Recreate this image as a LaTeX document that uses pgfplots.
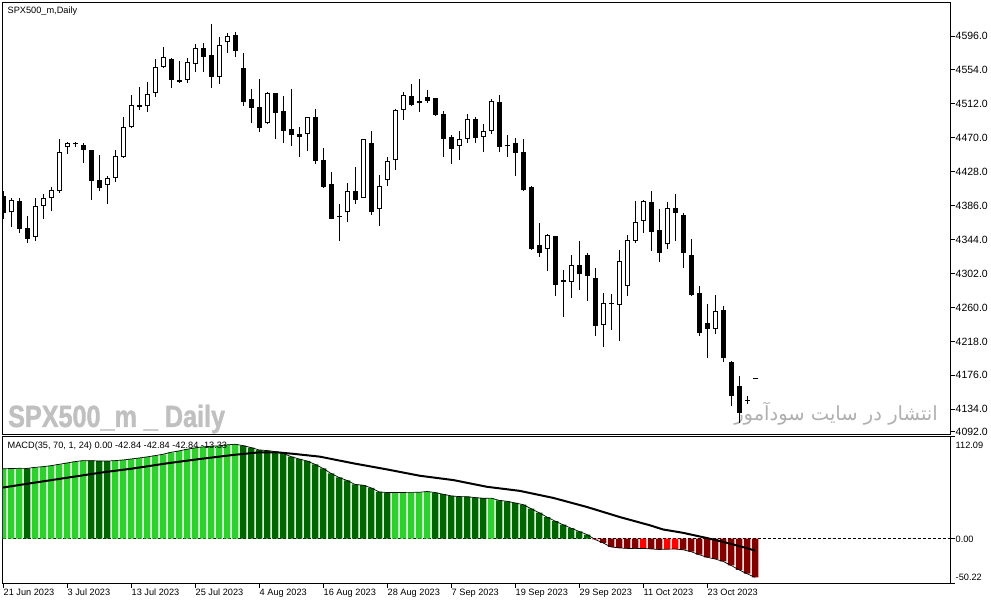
\documentclass[border=0pt]{standalone}
\usepackage{fontspec}
\setmainfont{Liberation Sans}
\newfontfamily\wmfont[FakeStretch=0.82,FakeBold=1.2]{Liberation Sans}
\newfontfamily\arabicfont[Script=Arabic]{DejaVu Sans}
\TeXXeTstate=1
\usepackage{pgfplots}
\pgfplotsset{compat=1.18}
\usepackage{pgfplotstable}

\definecolor{lgreen}{RGB}{50,205,50}
\definecolor{dgreen}{RGB}{0,100,0}
\definecolor{dred}{RGB}{128,0,0}
\definecolor{bred}{RGB}{255,0,0}
\definecolor{wmgray}{RGB}{192,192,192}
\definecolor{fagray}{RGB}{176,176,176}

% daily candles: index, open, high, low, close
\pgfplotstableread{
i O H L C
0 4398 4404 4370 4377
1 4378 4395 4360 4393
2 4392 4395 4352 4357
3 4359 4373 4340 4345
4 4347 4396 4342 4386
5 4386 4400 4370 4395
6 4395 4409 4379 4406
7 4404 4468 4402 4452
8 4459 4465 4450 4464
9 4463 4465 4459 4462
10 4461 4464 4439 4455
11 4455 4455 4393 4416
12 4418 4449 4404 4408
13 4411 4423 4388 4420
14 4420 4455 4415 4447
15 4446 4496 4445 4483
16 4483 4523 4482 4511
17 4511 4533 4504 4508
18 4509 4539 4502 4524
19 4525 4568 4520 4558
20 4558 4582 4556 4570
21 4568 4569 4532 4542
22 4542 4565 4538 4539
23 4542 4569 4538 4564
24 4561 4586 4551 4581
25 4581 4587 4551 4570
26 4573 4611 4532 4545
27 4545 4595 4536 4585
28 4588 4600 4575 4596
29 4597 4601 4570 4578
30 4556 4575 4509 4514
31 4518 4531 4488 4507
32 4508 4543 4477 4482
33 4488 4527 4487 4525
34 4525 4526 4468 4501
35 4503 4522 4464 4478
36 4481 4530 4460 4473
37 4475 4483 4446 4471
38 4475 4496 4454 4496
39 4496 4506 4438 4441
40 4443 4457 4408 4409
41 4413 4428 4369 4370
42 4373 4388 4342 4372
43 4378 4414 4366 4404
44 4404 4434 4388 4393
45 4396 4469 4395 4469
46 4464 4479 4375 4378
47 4382 4424 4361 4410
48 4418 4446 4410 4441
49 4442 4506 4430 4505
50 4505 4527 4492 4523
51 4522 4537 4509 4511
52 4513 4543 4502 4515
53 4520 4529 4513 4515
54 4519 4519 4497 4498
55 4500 4503 4446 4469
56 4471 4473 4437 4456
57 4460 4479 4443 4469
58 4469 4500 4464 4493
59 4493 4496 4464 4470
60 4471 4487 4452 4478
61 4478 4518 4475 4515
62 4514 4523 4452 4459
63 4461 4474 4446 4460
64 4464 4470 4423 4451
65 4452 4469 4404 4405
66 4409 4410 4331 4332
67 4337 4365 4323 4328
68 4333 4351 4305 4350
69 4348 4349 4274 4288
70 4292 4306 4248 4294
71 4292 4325 4272 4313
72 4313 4342 4282 4301
73 4325 4328 4268 4299
74 4297 4309 4225 4237
75 4238 4278 4211 4265
76 4265 4277 4232 4264
77 4263 4331 4218 4318
78 4287 4350 4274 4343
79 4342 4392 4340 4366
80 4367 4393 4352 4392
81 4391 4404 4330 4354
82 4356 4382 4316 4327
83 4338 4391 4332 4383
84 4383 4400 4342 4377
85 4374 4377 4309 4327
86 4325 4345 4274 4275
87 4278 4286 4225 4228
88 4241 4264 4197 4234
89 4234 4275 4227 4256
90 4257 4262 4192 4197
91 4193 4194 4138 4150
92 4163 4175 4117 4129
93 4144 4150 4141 4144
94 4171 4171 4171 4171
}\ohlc

% MACD histogram: value, split by colour
\pgfplotstableread{
i v lg dg dr br
0 77.0 77.0 nan nan nan
1 77.3 77.3 nan nan nan
2 77.5 77.5 nan nan nan
3 77.4 nan 77.4 nan nan
4 78.6 78.6 nan nan nan
5 79.3 79.3 nan nan nan
6 80.4 80.4 nan nan nan
7 81.9 81.9 nan nan nan
8 83.4 83.4 nan nan nan
9 84.9 84.9 nan nan nan
10 86.0 86.0 nan nan nan
11 85.9 nan 85.9 nan nan
12 85.6 nan 85.6 nan nan
13 85.5 nan 85.5 nan nan
14 86.0 86.0 nan nan nan
15 86.7 86.7 nan nan nan
16 87.8 87.8 nan nan nan
17 88.9 88.9 nan nan nan
18 90.1 90.1 nan nan nan
19 91.5 91.5 nan nan nan
20 93.0 93.0 nan nan nan
21 95.2 95.2 nan nan nan
22 96.7 96.7 nan nan nan
23 98.6 98.6 nan nan nan
24 100.1 100.1 nan nan nan
25 101.2 101.2 nan nan nan
26 101.9 101.9 nan nan nan
27 102.3 102.3 nan nan nan
28 103.4 103.4 nan nan nan
29 104.1 104.1 nan nan nan
30 102.6 nan 102.6 nan nan
31 100.4 nan 100.4 nan nan
32 97.8 nan 97.8 nan nan
33 97.1 nan 97.1 nan nan
34 96.0 nan 96.0 nan nan
35 94.1 nan 94.1 nan nan
36 90.4 nan 90.4 nan nan
37 87.8 nan 87.8 nan nan
38 85.6 nan 85.6 nan nan
39 81.9 nan 81.9 nan nan
40 77.4 nan 77.4 nan nan
41 71.9 nan 71.9 nan nan
42 67.4 nan 67.4 nan nan
43 64.1 nan 64.1 nan nan
44 59.7 nan 59.7 nan nan
45 58.9 nan 58.9 nan nan
46 56.0 nan 56.0 nan nan
47 51.5 nan 51.5 nan nan
48 50.8 nan 50.8 nan nan
49 50.85 50.85 nan nan nan
50 50.9 50.9 nan nan nan
51 50.95 50.95 nan nan nan
52 51.0 51.0 nan nan nan
53 51.9 51.9 nan nan nan
54 50.8 nan 50.8 nan nan
55 48.9 nan 48.9 nan nan
56 47.1 nan 47.1 nan nan
57 46.3 nan 46.3 nan nan
58 46.2 nan 46.2 nan nan
59 45.2 nan 45.2 nan nan
60 44.5 nan 44.5 nan nan
61 44.6 44.6 nan nan nan
62 42.2 nan 42.2 nan nan
63 41.1 nan 41.1 nan nan
64 39.3 nan 39.3 nan nan
65 37.4 nan 37.4 nan nan
66 33.0 nan 33.0 nan nan
67 28.5 nan 28.5 nan nan
68 23.7 nan 23.7 nan nan
69 19.3 nan 19.3 nan nan
70 15.2 nan 15.2 nan nan
71 11.5 nan 11.5 nan nan
72 7.8 nan 7.8 nan nan
73 4.4 nan 4.4 nan nan
74 -1.0 nan nan nan -1.0
75 -4.8 nan nan -4.8 nan
76 -9.3 nan nan -9.3 nan
77 -10.4 nan nan -10.4 nan
78 -10.9 nan nan -10.9 nan
79 -11.2 nan nan -11.2 nan
80 -10.9 nan nan nan -10.9
81 -11.5 nan nan -11.5 nan
82 -12.1 nan nan -12.1 nan
83 -11.8 nan nan nan -11.8
84 -11.6 nan nan nan -11.6
85 -12.4 nan nan -12.4 nan
86 -14.5 nan nan -14.5 nan
87 -17.8 nan nan -17.8 nan
88 -20.7 nan nan -20.7 nan
89 -22.6 nan nan -22.6 nan
90 -25.2 nan nan -25.2 nan
91 -29.7 nan nan -29.7 nan
92 -34.5 nan nan -34.5 nan
93 -38.9 nan nan -38.9 nan
94 -42.84 nan nan -42.84 nan
}\macd

\begin{document}
\begin{tikzpicture}[x=1pt,y=1pt]
\useasboundingbox (0,0) rectangle (991,605);
\fill[white] (0,0) rectangle (991,605);

% watermarks (behind everything)
\node[anchor=base west, inner sep=0pt, text=wmgray] at (8,178)
  {\wmfont\bfseries\fontsize{30.7}{31}\selectfont SPX500\_m \_ Daily};
\node[anchor=center, inner sep=0pt, text=fagray] at (836,191)
  {\arabicfont\fontsize{19.5}{20}\selectfont\beginR انتشار در سایت سودآموز\endR};

% ---------------- price panel ----------------
\begin{axis}[
  at={(2.5pt,170pt)}, anchor=south west,
  width=948pt, height=432.5pt, scale only axis,
  xmin=-0.0625, xmax=118.4375, ymin=4102.2, ymax=4637.5,
  axis line style={black, line width=1pt},
  xtick=\empty,
  ytick={4134,4176,...,4596}, ytick pos=right,
  tick align=outside, major tick length=4pt,
  tick style={black, line width=1pt},
  yticklabel style={anchor=west, inner sep=1pt, font=\fontsize{10.5}{11}\selectfont},
  /pgf/number format/.cd, fixed, fixed zerofill, precision=1, 1000 sep={}, assume math mode=true,
]
% wicks
\addplot[draw=none, mark=none, forget plot,
  error bars/.cd, y dir=plus, y explicit, error mark=none,
  error bar style={black, line width=1pt}]
  table[x=i, y=L, y error expr={\thisrow{H}-\thisrow{L}}] {\ohlc};
% bodies
\addplot[draw=none, mark=none, forget plot,
  error bars/.cd, y dir=plus, y explicit, error mark=none,
  error bar style={black, line width=5pt}]
  table[x=i, y expr={min(\thisrow{O},\thisrow{C})},
        y error expr={max(abs(\thisrow{C}-\thisrow{O}),1.6)}] {\ohlc};
% hollow interiors of rising candles
\addplot[draw=none, mark=none, forget plot, unbounded coords=discard,
  error bars/.cd, y dir=plus, y explicit, error mark=none,
  error bar style={white, line width=3pt}]
  table[x expr={\thisrow{C}>\thisrow{O} ? \thisrow{i} : nan},
        y expr={\thisrow{O}+1.24},
        y error expr={max(\thisrow{C}-\thisrow{O}-2.48,0)}] {\ohlc};
\end{axis}

% ---------------- MACD panel ----------------
\begin{axis}[
  at={(2.5pt,21pt)}, anchor=south west,
  width=948pt, height=147pt, scale only axis,
  xmin=-0.0625, xmax=118.4375, ymin=-50.22, ymax=112.09,
  axis line style={black, line width=1pt},
  xtick={0,8,...,88},
  xticklabels={21 Jun 2023,3 Jul 2023,13 Jul 2023,25 Jul 2023,4 Aug 2023,16 Aug 2023,28 Aug 2023,7 Sep 2023,19 Sep 2023,29 Sep 2023,11 Oct 2023,23 Oct 2023},
  xtick pos=bottom, ytick pos=right,
  tick align=outside, major tick length=4pt,
  tick style={black, line width=1pt},
  xticklabel style={anchor=north west, inner sep=0pt, xshift=0.5pt, yshift=-1pt, font=\fontsize{9.2}{10}\selectfont},
  ytick={-50.22,112.09}, yticklabels={,,},
  extra y ticks={0}, extra y tick labels={,},
  extra y tick style={grid=major, major grid style={black, line width=0.8pt, dash pattern=on 3pt off 2pt}},
]
\addplot[ybar, bar width=6.5pt, bar shift=0pt, fill=lgreen, draw=none, unbounded coords=discard] table[x=i, y=lg] {\macd};
\addplot[ybar, bar width=6.5pt, bar shift=0pt, fill=dgreen, draw=none, unbounded coords=discard] table[x=i, y=dg] {\macd};
\addplot[ybar, bar width=6.5pt, bar shift=0pt, fill=dred, draw=none, unbounded coords=discard] table[x=i, y=dr] {\macd};
\addplot[ybar, bar width=6.5pt, bar shift=0pt, fill=bred, draw=none, unbounded coords=discard] table[x=i, y=br] {\macd};
\addplot[black, line width=0.7pt, mark=none] table[x=i, y=v] {\macd};
% signal line
\addplot[black, line width=2pt, mark=none] coordinates {
(0,56.3) (3.8,61.5) (8,67.1) (12.1,72.6) (16.3,77.4) (20.5,83.0) (24.6,87.8)
(28.8,92.3) (32.1,95.2) (34.2,95.2) (36.3,93.5) (39.6,90.4) (43.8,83.0)
(48,76.3) (52.1,69.3) (56.3,64.5) (60.5,57.1) (64.6,52.6) (68.8,44.8)
(73,34.8) (77.1,23.7) (80.9,14.5) (82.5,10.0) (85,6.3) (87.9,0.7)
(90,-3.7) (92.1,-8.5) (94,-13.3)};
\end{axis}

% texts
\node[anchor=west, inner sep=0pt] at (7.5,594) {\fontsize{9.2}{10}\selectfont SPX500\_m,Daily};
\node[anchor=west, inner sep=0pt] at (7.5,158.5) {\fontsize{9.2}{10}\selectfont MACD(35, 70, 1, 24) 0.00 -42.84 -42.84 -42.84 -13.33};
\draw[black, line width=1pt] (950.5,173) -- (954.5,173);
\node[anchor=west, inner sep=1pt] at (954.5,173) {\fontsize{10.5}{11}\selectfont 4092.0};
\node[anchor=west, inner sep=1pt] at (954.5,160) {\fontsize{9.2}{10}\selectfont 112.09};
\node[anchor=west, inner sep=1pt] at (954.5,66) {\fontsize{9.2}{10}\selectfont 0.00};
\node[anchor=west, inner sep=1pt] at (954.5,28) {\fontsize{9.2}{10}\selectfont -50.22};
\end{tikzpicture}
\end{document}
